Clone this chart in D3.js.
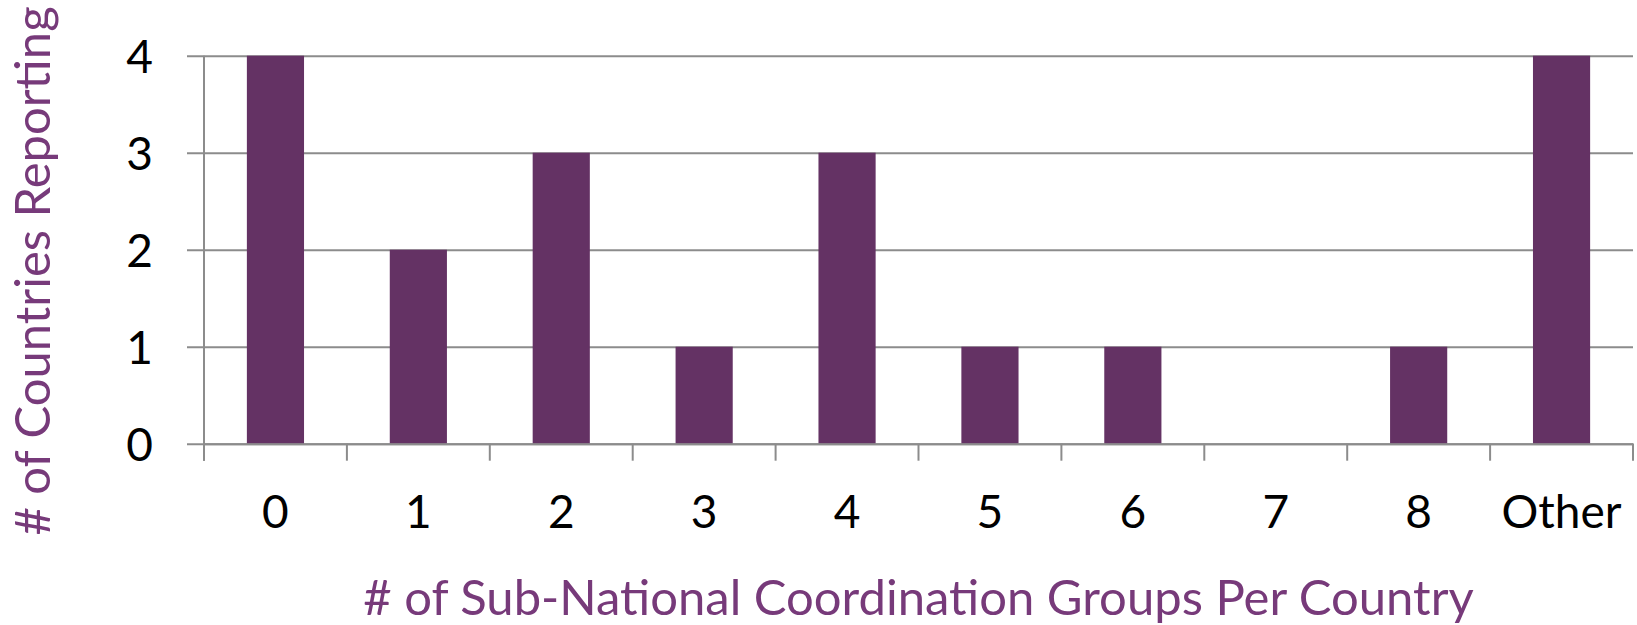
<!DOCTYPE html>
<html>
<head>
<meta charset="utf-8">
<script src="https://cdn.jsdelivr.net/npm/d3@7"></script>
<style>
  body { margin: 0; background: #fff; }
  text { font-family: Lato, "Open Sans", sans-serif; }
</style>
</head>
<body>
<div id="chart"></div>
<script>
// Data
var categories = ['0', '1', '2', '3', '4', '5', '6', '7', '8', 'Other'];
var counts = [4, 2, 3, 1, 3, 1, 1, 0, 1, 4];
var yTicks = [0, 1, 2, 3, 4];
var xTitle = '# of Sub-National Coordination Groups Per Country';
var yTitle = '# of Countries Reporting';

var width = 1637,
    height = 625,
    margin = {top: 55.7, right: 4, left: 204, bottom: 181.3};

var drawWidth = width - margin.left - margin.right;
var drawHeight = height - margin.top - margin.bottom;

var barColor = '#643264',
    gridColor = '#8c8c8c',
    titleColor = '#773a7a';

var data = categories.map(function(c, i) { return {cat: c, value: counts[i]}; });

var svg = d3.select('#chart').append('svg')
    .attr('width', width)
    .attr('height', height);

var g = svg.append('g')
    .attr('transform', 'translate(' + margin.left + ',' + margin.top + ')');

var xScale = d3.scaleBand()
    .domain(categories)
    .range([0, drawWidth])
    .paddingInner(0.6)
    .paddingOuter(0.3);

var yScale = d3.scaleLinear()
    .domain([0, 4])
    .range([drawHeight, 0]);

// Gridlines + y ticks
var yAxis = d3.axisLeft(yScale)
    .tickValues(yTicks)
    .tickFormat(d3.format('d'))
    .tickSize(17)
    .tickSizeOuter(0);
var yG = g.append('g').attr('class', 'y-axis').call(yAxis);
yG.select('.domain').remove();
yG.selectAll('.tick line')
    .attr('x1', -17)
    .attr('x2', drawWidth)
    .attr('stroke', gridColor)
    .attr('stroke-width', 2);
yG.selectAll('.tick text')
    .attr('x', -51)
    .attr('dy', '0.36em')
    .attr('fill', '#000')
    .style('font-size', '46px');

// Vertical axis line
g.append('line')
    .attr('x1', 0).attr('x2', 0)
    .attr('y1', 0).attr('y2', drawHeight + 17)
    .attr('stroke', gridColor)
    .attr('stroke-width', 2);

// Bars
g.selectAll('.bar')
    .data(data)
    .enter()
    .append('rect')
    .attr('class', 'bar')
    .attr('x', function(d) { return xScale(d.cat); })
    .attr('width', xScale.bandwidth())
    .attr('y', function(d) { return yScale(d.value); })
    .attr('height', function(d) { return drawHeight - yScale(d.value); })
    .attr('fill', barColor);

// X axis labels
var xAxis = d3.axisBottom(xScale).tickSize(0).tickSizeOuter(0);
var xG = g.append('g')
    .attr('class', 'x-axis')
    .attr('transform', 'translate(0,' + drawHeight + ')')
    .call(xAxis);
xG.select('.domain')
    .attr('stroke', gridColor)
    .attr('stroke-width', 2);
xG.selectAll('.tick text')
    .attr('y', 84)
    .attr('dy', 0)
    .attr('fill', '#000')
    .style('font-size', '46px');

// Category boundary ticks
var step = xScale.step();
var bounds = categories.map(function(c) { return xScale(c) - step * 0.3; });
bounds.push(drawWidth);
xG.selectAll('.bound')
    .data(bounds)
    .enter()
    .append('line')
    .attr('class', 'bound')
    .attr('x1', function(d) { return d; })
    .attr('x2', function(d) { return d; })
    .attr('y1', 0)
    .attr('y2', 17)
    .attr('stroke', gridColor)
    .attr('stroke-width', 2);

// Axis titles
svg.append('text')
    .attr('x', margin.left + drawWidth / 2)
    .attr('y', 615)
    .attr('text-anchor', 'middle')
    .attr('fill', titleColor)
    .style('font-size', '49px')
    .text(xTitle);

svg.append('text')
    .attr('transform', 'translate(50,271) rotate(-90)')
    .attr('text-anchor', 'middle')
    .attr('fill', titleColor)
    .style('font-size', '49px')
    .text(yTitle);
</script>
</body>
</html>
